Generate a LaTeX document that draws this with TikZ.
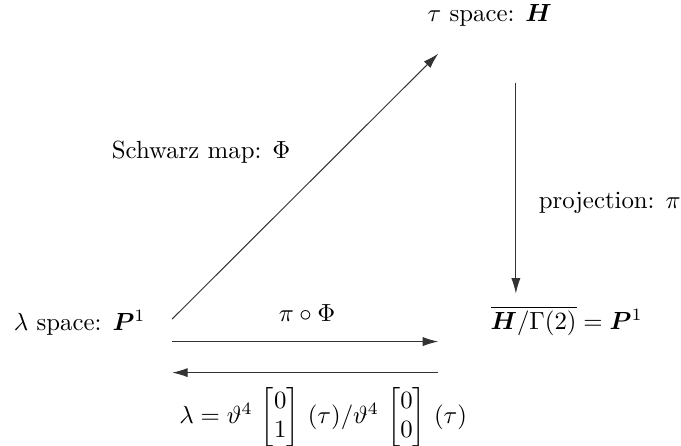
\documentclass[tikz,border=0pt]{standalone}
\usepackage{amsmath, amssymb}
\usepackage{bm}
\usepackage{tikz}
\usetikzlibrary{arrows.meta, positioning, calc}

\begin{document}
\begin{tikzpicture}[
    arr/.style={-{Latex[length=2.2mm, width=1.3mm]}, line width=0.4pt, black!80},
    lbl/.style={inner sep=1pt}
  ]
    \useasboundingbox (0, 0) rectangle (9.65, 6.31);

    % spaces
    \node[lbl] (tau) at (6.94, 6.09) {$\tau$ space: $\bm{H}$};
    \node[lbl] (lam) at (1.13, 1.74) {$\lambda$ space: $\bm{P}^1$};
    \node[lbl] (quot) at (8.03, 1.76) {$\overline{\bm{H}/\Gamma(2)} = \bm{P}^1$};

    % arrow ends
    \coordinate (s0) at (2.44, 1.79);
    \coordinate (s1) at (6.21, 5.55);
    \coordinate (p0) at (7.31, 5.14);
    \coordinate (p1) at (7.31, 2.15);
    \coordinate (f0) at (2.44, 1.47);
    \coordinate (f1) at (6.21, 1.47);
    \coordinate (g0) at (6.21, 1.03);
    \coordinate (g1) at (2.44, 1.03);

    % maps
    \draw[arr] (s0) -- (s1);
    \draw[arr] (p0) -- (p1);
    \draw[arr] (f0) -- (f1);
    \draw[arr] (g0) -- (g1);

    % labels
    \node[lbl] (schwarz) at (2.85, 4.15) {Schwarz map: $\Phi$};
    \node[lbl] (proj) at (8.64, 3.44) {projection: $\pi$};
    \node[lbl] (comp) at (4.35, 1.87) {$\pi \circ \Phi$};
    \node[lbl] (inv) at (4.58, 0.40) {$\lambda = \vartheta^4 \,\begin{bmatrix}0\\1\end{bmatrix}\,(\tau)/\vartheta^4 \,\begin{bmatrix}0\\0\end{bmatrix}\,(\tau)$};
\end{tikzpicture}
\end{document}
